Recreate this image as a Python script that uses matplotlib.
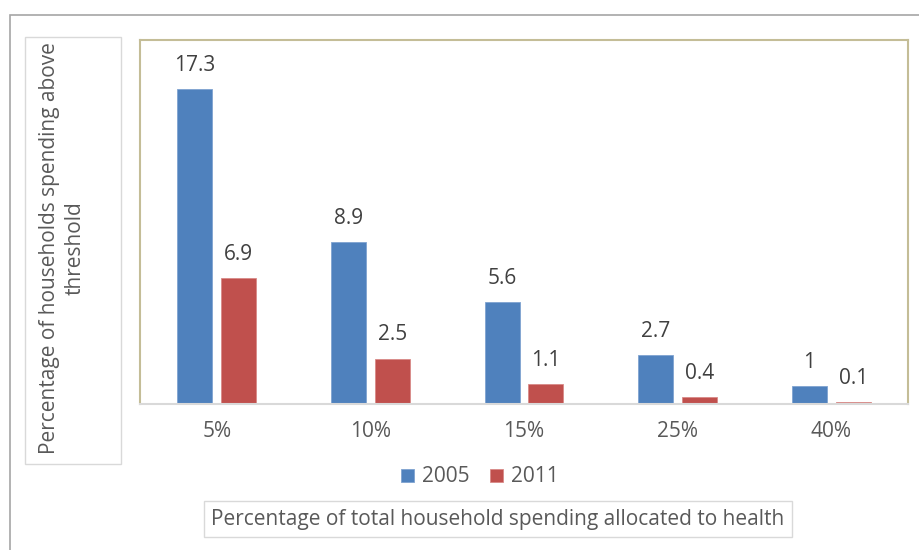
import matplotlib
matplotlib.use("Agg")
import matplotlib.pyplot as plt
from matplotlib.patches import Rectangle
import numpy as np

plt.rcParams['font.family'] = ['Open Sans', 'DejaVu Sans']

# --- Data ---
thresholds = ['5%', '10%', '15%', '25%', '40%']
share_2005 = [17.3, 8.9, 5.6, 2.7, 1]
share_2011 = [6.9, 2.5, 1.1, 0.4, 0.1]

blue = '#4F81BD'
red = '#C0504D'
text_col = '#595959'
W, H = 920, 550
fs = 15

fig = plt.figure(figsize=(W / 100, H / 100), dpi=100)

# outer chart frame (runs off the right/bottom edge)
fig.patches.append(Rectangle((10 / W, -0.1), 2, 1 - 15 / H + 0.1, transform=fig.transFigure,
                             fill=False, edgecolor='#A6A6A6', linewidth=1.2))

ax = fig.add_axes([140 / W, (H - 404) / H, 768 / W, 364 / H])
x = np.arange(len(thresholds))
bw = 0.228
off = 0.143
b1 = ax.bar(x - off, share_2005, bw, color=blue, edgecolor='#7FA3D0', linewidth=0.6, label='2005')
b2 = ax.bar(x + off, share_2011, bw, color=red, edgecolor='#D98A88', linewidth=0.6, label='2011')

for bars, vals in ((b1, share_2005), (b2, share_2011)):
    for rect, v in zip(bars, vals):
        ax.annotate(f'{v:g}', (rect.get_x() + rect.get_width() / 2, rect.get_height()),
                    xytext=(0, 17), textcoords='offset points', ha='center', va='center',
                    fontsize=fs, color='#404040')

ax.set_xlim(-0.5, len(thresholds) - 0.5)
ax.set_ylim(0, 20)
ax.set_yticks([])
ax.set_xticks(x)
ax.set_xticklabels(thresholds, fontsize=fs, color=text_col)
ax.tick_params(axis='x', length=0, pad=12)
for side in ('top', 'right', 'left'):
    ax.spines[side].set_color('#C4BD97')
    ax.spines[side].set_linewidth(1.5)
ax.spines['bottom'].set_color('#D9D9D9')
ax.spines['bottom'].set_linewidth(1.5)

# y-axis title box
fig.patches.append(Rectangle((25 / W, (H - 464) / H), 96 / W, 427 / H, transform=fig.transFigure,
                             fill=False, edgecolor='#D9D9D9', linewidth=1))
fig.text(62 / W, (H - 248) / H, 'Percentage of households spending above\nthreshold',
         rotation=90, ha='center', va='center', fontsize=fs, color=text_col,
         multialignment='center', linespacing=1.3)

# legend
fig.legend(loc='center', bbox_to_anchor=(480 / W, (H - 477) / H), ncol=2, frameon=False,
           fontsize=fs, handlelength=0.6, handleheight=0.6, handletextpad=0.4,
           columnspacing=1.0, labelcolor=text_col)

# x-axis title box
fig.text(498 / W, (H - 519) / H, 'Percentage of total household spending allocated to health',
         ha='center', va='center', fontsize=fs, color=text_col,
         bbox=dict(boxstyle='square,pad=0.35', facecolor='white', edgecolor='#D9D9D9', linewidth=1))

fig.savefig('out.png', dpi=100)
